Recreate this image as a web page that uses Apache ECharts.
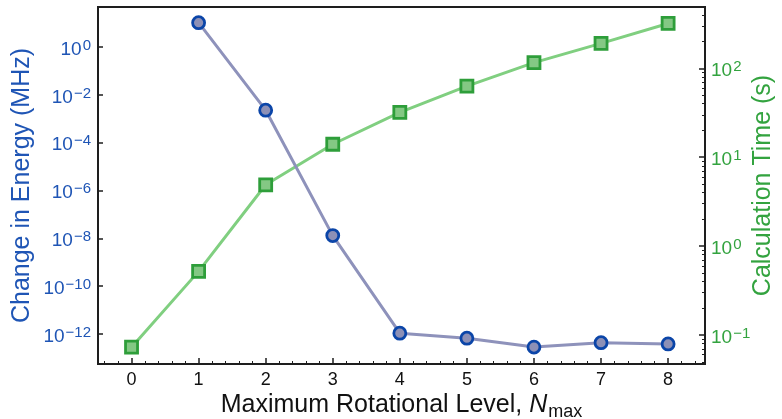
<!DOCTYPE html>
<html><head><meta charset="utf-8">
<script src="https://cdn.jsdelivr.net/npm/echarts@6/dist/echarts.min.js"></script>
<style>html,body{margin:0;padding:0;background:#fff}#c{width:782px;height:419px}</style>
</head><body><div id="c"></div>
<script>
// ---- data ----
const levels = [0, 1, 2, 3, 4, 5, 6, 7, 8];
const energyChange = [null, 10.6, 2.3e-3, 1.3e-8, 1.07e-12, 6.6e-13, 2.8e-13, 4.3e-13, 3.8e-13];
const calcTime = [0.073, 0.52, 4.9, 14.0, 32, 63, 116, 191, 320];
const leftTicks = [1e-12, 1e-10, 1e-8, 1e-6, 1e-4, 1e-2, 1];
const rightTicks = [0.1, 1, 10, 100];
const rightMinorTicks = [0.05, 0.06, 0.07, 0.08, 0.09, 0.2, 0.3, 0.4, 0.5, 0.6, 0.7, 0.8, 0.9,
  2, 3, 4, 5, 6, 7, 8, 9, 20, 30, 40, 50, 60, 70, 80, 90, 200, 300, 400];
const xMinorTicks = [-0.4, -0.2, 0.2, 0.4, 0.6, 0.8, 1.2, 1.4, 1.6, 1.8, 2.2, 2.4, 2.6, 2.8,
  3.2, 3.4, 3.6, 3.8, 4.2, 4.4, 4.6, 4.8, 5.2, 5.4, 5.6, 5.8, 6.2, 6.4, 6.6, 6.8,
  7.2, 7.4, 7.6, 7.8, 8.2, 8.4];

const FONT = '"Liberation Sans", Arial, sans-serif';
const BLUE_TXT = '#1f55b5';
const GREEN_TXT = '#33a33f';
const AX = '#1e1e1e';
const X_MIN = -0.5, X_MAX = 8.55;
const L_MIN = 5.5e-14, L_MAX = 47.9;
const R_MIN = 0.0472, R_MAX = 490;

function powLabel(v) {
  const e = Math.round(Math.log10(v));
  return '{b|10}{s|' + (e < 0 ? '\u2212' + (-e) : e) + '}';
}
function richFor(color) {
  return {
    b: { fontSize: 19, lineHeight: 21, verticalAlign: 'bottom', color: color, fontFamily: FONT },
    s: { fontSize: 15, lineHeight: 15, verticalAlign: 'top', color: color, fontFamily: FONT, padding: [0, 0, 11, 1] }
  };
}

const chart = echarts.init(document.getElementById('c'), null, { renderer: 'canvas' });
const energyData = levels.map((x, i) => [x, energyChange[i]]).filter(d => d[1] != null);
const timeData = levels.map((x, i) => [x, calcTime[i]]);

const gridBox = { left: 98, right: 77, top: 7, bottom: 55, containLabel: false, outerBoundsMode: 'none' };

chart.setOption({
  animation: false,
  backgroundColor: '#fff',
  grid: [
    Object.assign({ show: true, borderColor: AX, borderWidth: 2, backgroundColor: 'transparent' }, gridBox),
    Object.assign({ show: false }, gridBox)
  ],
  xAxis: [{
    gridIndex: 0, type: 'value', min: X_MIN, max: X_MAX, position: 'bottom',
    axisLine: { show: true, onZero: false, lineStyle: { color: AX, width: 2 } },
    axisTick: { show: true, inside: true, length: 6, customValues: levels, lineStyle: { color: AX, width: 1.5 } },
    axisLabel: { customValues: levels, color: '#111', fontSize: 18, fontFamily: FONT, margin: 7 },
    splitLine: { show: false },
    name: '{a|Maximum Rotational Level, }{i|N}{s|max}',
    nameLocation: 'middle', nameGap: 29, nameMoveOverlap: false,
    nameTextStyle: {
      rich: {
        a: { fontSize: 25, lineHeight: 28, verticalAlign: 'top', color: '#111', fontFamily: FONT },
        i: { fontSize: 25, lineHeight: 28, verticalAlign: 'top', color: '#111', fontFamily: FONT, fontStyle: 'italic' },
        s: { fontSize: 18, lineHeight: 19, verticalAlign: 'bottom', color: '#111', fontFamily: FONT, padding: [14, 0, 0, 1] }
      }
    }
  }, {
    gridIndex: 1, type: 'value', min: X_MIN, max: X_MAX, position: 'bottom',
    axisLine: { show: false, onZero: false },
    axisTick: { show: true, inside: true, length: 3, customValues: xMinorTicks, lineStyle: { color: AX, width: 1 } },
    axisLabel: { show: false },
    splitLine: { show: false }
  }],
  yAxis: [{
    gridIndex: 0, type: 'log', logBase: 10, min: L_MIN, max: L_MAX, position: 'left',
    axisLine: { show: true, onZero: false, lineStyle: { color: AX, width: 2 } },
    axisTick: { show: true, inside: true, length: 5, customValues: leftTicks, lineStyle: { color: AX, width: 1.5 } },
    axisLabel: { customValues: leftTicks, formatter: powLabel, rich: richFor(BLUE_TXT), margin: 7, padding: [3, 0, 0, 0] },
    splitLine: { show: false }, minorTick: { show: false },
    name: 'Change in Energy (MHz)', nameLocation: 'middle', nameRotate: 90, nameGap: 63, nameMoveOverlap: false,
    nameTextStyle: { color: BLUE_TXT, fontSize: 25, fontFamily: FONT }
  }, {
    gridIndex: 0, type: 'log', logBase: 10, min: R_MIN, max: R_MAX, position: 'right',
    axisLine: { show: true, onZero: false, lineStyle: { color: AX, width: 2 } },
    axisTick: { show: true, inside: true, length: 6, customValues: rightTicks, lineStyle: { color: AX, width: 1.5 } },
    axisLabel: { customValues: rightTicks, formatter: powLabel, rich: richFor(GREEN_TXT), margin: 6, padding: [3, 0, 0, 0] },
    splitLine: { show: false }, minorTick: { show: false },
    name: 'Calculation Time (s)', nameLocation: 'middle', nameRotate: 90, nameGap: 46, nameMoveOverlap: false,
    nameTextStyle: { color: GREEN_TXT, fontSize: 25, fontFamily: FONT }
  }, {
    gridIndex: 1, type: 'log', logBase: 10, min: R_MIN, max: R_MAX, position: 'right',
    axisLine: { show: false, onZero: false },
    axisTick: { show: true, inside: true, length: 3, customValues: rightMinorTicks, lineStyle: { color: AX, width: 1 } },
    axisLabel: { show: false },
    splitLine: { show: false }
  }],
  series: [{
    name: 'Calculation Time', type: 'line', xAxisIndex: 0, yAxisIndex: 1,
    data: timeData, symbol: 'rect', symbolSize: 12,
    lineStyle: { color: '#80cf80', width: 3 },
    itemStyle: { color: '#84c884', borderColor: '#2e9e3a', borderWidth: 2.8 },
    z: 2
  }, {
    name: 'Change in Energy', type: 'line', xAxisIndex: 0, yAxisIndex: 0,
    data: energyData, symbol: 'circle', symbolSize: 12,
    lineStyle: { color: '#8e92bb', width: 3 },
    itemStyle: { color: '#8d90b6', borderColor: '#0b45a8', borderWidth: 2.8 },
    z: 3
  }]
});
</script></body></html>
